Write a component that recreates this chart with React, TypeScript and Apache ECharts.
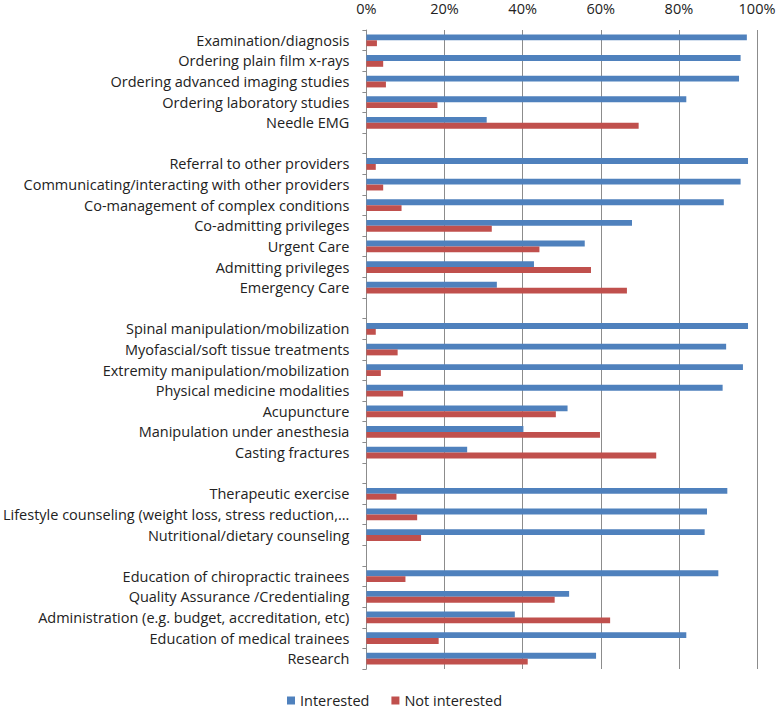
import React, { useEffect, useRef } from "react";
import * as echarts from "echarts";

const categories: string[] = [
  "Examination/diagnosis",
  "Ordering plain film x-rays",
  "Ordering advanced imaging studies",
  "Ordering laboratory studies",
  "Needle EMG",
  "",
  "Referral to other providers",
  "Communicating/interacting with other providers",
  "Co-management of complex conditions",
  "Co-admitting privileges",
  "Urgent Care",
  "Admitting privileges",
  "Emergency Care",
  " ",
  "Spinal manipulation/mobilization",
  "Myofascial/soft tissue treatments",
  "Extremity manipulation/mobilization",
  "Physical medicine modalities",
  "Acupuncture",
  "Manipulation under anesthesia",
  "Casting fractures",
  "  ",
  "Therapeutic exercise",
  "Lifestyle counseling (weight loss, stress reduction,...",
  "Nutritional/dietary counseling",
  "   ",
  "Education of chiropractic trainees",
  "Quality Assurance /Credentialing",
  "Administration (e.g. budget, accreditation, etc)",
  "Education of medical trainees",
  "Research",
];

const interested: (number | null)[] = [
  97.4, 95.8, 95.4, 81.9, 30.8, null,
  97.7, 95.8, 91.5, 68.0, 55.9, 42.9, 33.4, null,
  97.7, 92.1, 96.4, 91.2, 51.5, 40.2, 25.8, null,
  92.4, 87.2, 86.6, null,
  90.1, 51.9, 38.0, 81.9, 58.8,
];

const notInterested: (number | null)[] = [
  2.7, 4.3, 5.0, 18.2, 69.7, null,
  2.4, 4.3, 9.0, 32.1, 44.3, 57.5, 66.7, null,
  2.4, 8.0, 3.7, 9.4, 48.5, 59.8, 74.2, null,
  7.7, 13.0, 14.0, null,
  10.0, 48.2, 62.4, 18.5, 41.3,
];

const xTicks = { min: 0, max: 100, interval: 20 };

export default function App() {
  const ref = useRef<HTMLDivElement>(null);
  useEffect(() => {
    if (!ref.current) return;
    const chart = echarts.init(ref.current, null, { renderer: "svg" });
    const font = "'Open Sans', sans-serif";
    const fs = 14.5;
    chart.setOption({
      animation: false,
      backgroundColor: "#ffffff",
      textStyle: { fontFamily: font },
      grid: { left: 365, right: 22, top: 30, bottom: 41, containLabel: false },
      legend: {
        data: ["Interested", "Not interested"],
        left: 287,
        top: 693,
        icon: "rect",
        itemWidth: 8,
        itemHeight: 8,
        itemGap: 22,
        textStyle: { fontSize: fs, color: "#222", fontFamily: font },
        padding: 0,
      },
      xAxis: {
        type: "value",
        position: "top",
        min: xTicks.min,
        max: xTicks.max,
        interval: xTicks.interval,
        axisLine: { show: false },
        axisTick: { show: false },
        axisLabel: {
          formatter: "{value}%",
          fontSize: fs,
          color: "#222",
          fontFamily: font,
          margin: 14,
        },
        splitLine: { show: true, lineStyle: { color: "#8c8c8c", width: 1 } },
      },
      yAxis: {
        type: "category",
        data: categories,
        inverse: true,
        axisLine: { show: true, lineStyle: { color: "#8c8c8c", width: 1 } },
        axisTick: { show: true, length: 4, interval: 0, lineStyle: { color: "#8c8c8c" } },
        axisLabel: {
          interval: 0,
          fontSize: fs,
          color: "#222",
          fontFamily: font,
          margin: 17,
        },
        splitLine: { show: false },
      },
      series: [
        {
          name: "Interested",
          type: "bar",
          data: interested,
          barGap: "0%",
          barCategoryGap: "43%",
          itemStyle: { color: "#4F81BD" },
        },
        {
          name: "Not interested",
          type: "bar",
          data: notInterested,
          barGap: "0%",
          barCategoryGap: "43%",
          itemStyle: { color: "#C0504D" },
        },
      ],
    });
    return () => chart.dispose();
  }, []);
  return <div ref={ref} style={{ width: 779, height: 710, position: "absolute", left: 0, top: 0 }} />;
}
